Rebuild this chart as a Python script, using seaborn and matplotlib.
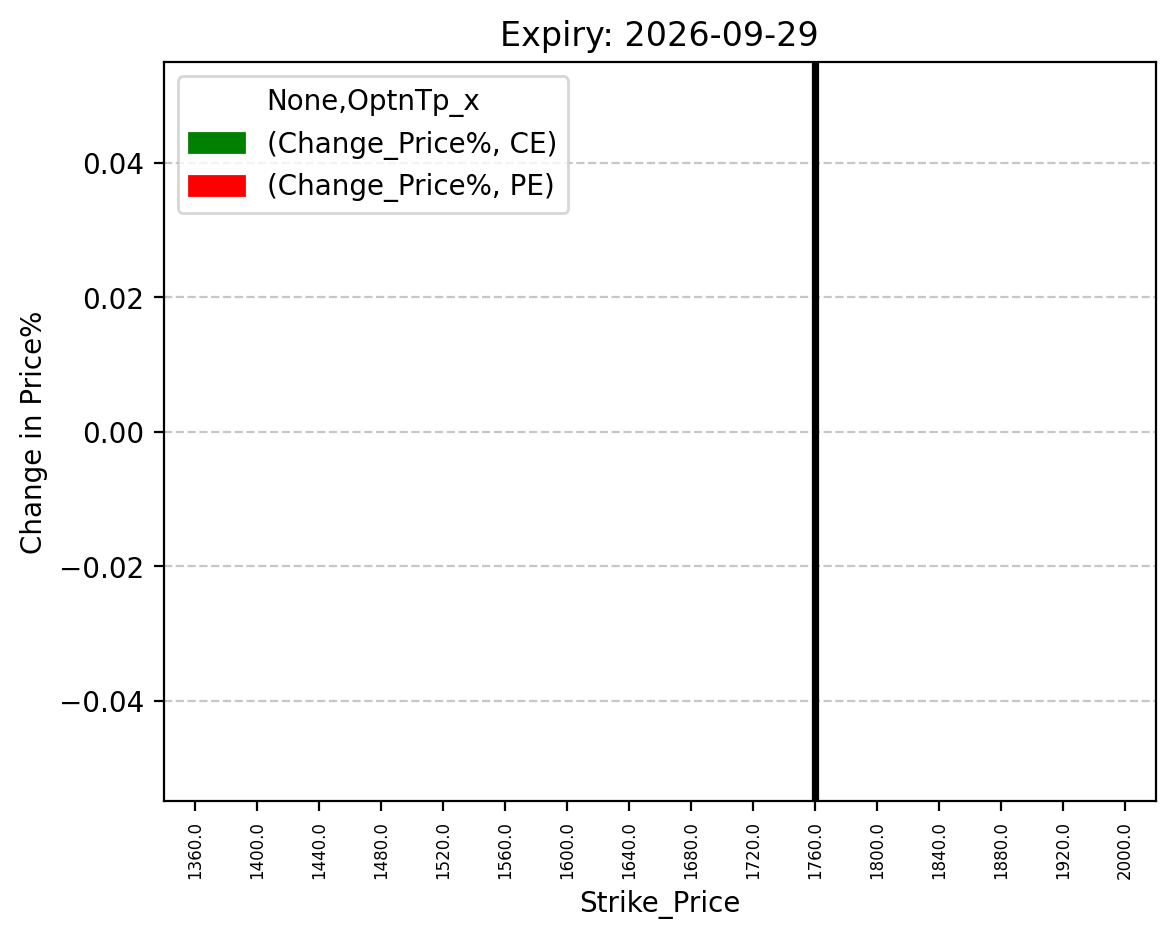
import matplotlib
matplotlib.use("Agg")
import matplotlib.pyplot as plt
import matplotlib.patches as mpatches
import seaborn as sns
import pandas as pd

strikes = [1360.0, 1400.0, 1440.0, 1480.0, 1520.0, 1560.0, 1600.0, 1640.0,
           1680.0, 1720.0, 1760.0, 1800.0, 1840.0, 1880.0, 1920.0, 2000.0]
ce_change = [0.0] * len(strikes)
pe_change = [0.0] * len(strikes)
series_labels = ["(Change_Price%, CE)", "(Change_Price%, PE)"]
series_colors = ["green", "red"]
legend_title = "None,OptnTp_x"
current_price = 1760.0
expiry = "2026-09-29"

labels = [f"{s:.1f}" for s in strikes]
df = pd.DataFrame({
    "Strike_Price": labels * 2,
    "Change": ce_change + pe_change,
    "Type": ["CE"] * len(strikes) + ["PE"] * len(strikes),
})

fig, ax = plt.subplots(figsize=(6.4, 4.8))
sns.barplot(data=df, x="Strike_Price", y="Change", hue="Type", order=labels,
            palette=series_colors, ax=ax, legend=False, width=0.5)

ax.axvline(labels.index(f"{current_price:.1f}"), color="black", linewidth=2.6)

ax.set_xticks(range(len(labels)))
ax.set_xticklabels(labels, rotation=90, fontsize=6)
ax.set_xlabel("Strike_Price")
ax.set_ylabel("Change in Price%")
ax.set_title(f"Expiry: {expiry}")
ax.grid(axis="y", linestyle="--", alpha=0.7)
ax.set_axisbelow(True)

handles = [mpatches.Patch(color=c, label=l) for c, l in zip(series_colors, series_labels)]
ax.legend(handles=handles, title=legend_title, loc="upper left")

fig.savefig("out.png", dpi=200, bbox_inches="tight")
